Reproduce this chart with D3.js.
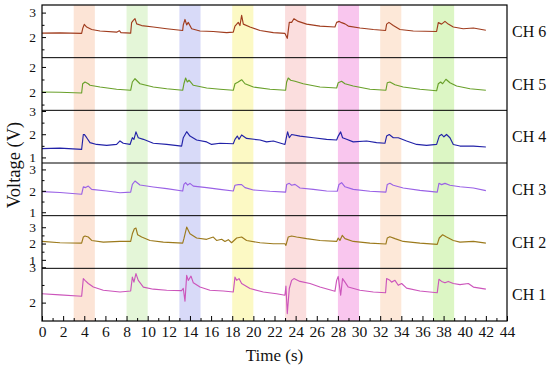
<!DOCTYPE html>
<html><head><meta charset="utf-8">
<script src="https://cdn.jsdelivr.net/npm/d3@7"></script>
<style>body{margin:0;background:#fff} svg{display:block} svg text{font-family:"Liberation Serif","Times New Roman","DejaVu Serif",serif;fill:#111}</style>
</head><body><svg id="c" width="550" height="370"></svg>
<script>
// ---------- data ----------
const channelNames = ["CH 6","CH 5","CH 4","CH 3","CH 2","CH 1"];
const lineColors = ["#a03c1e","#69a02a","#2222a8","#9a62e6","#9c7a1c","#cc55bb"];

const ch6 = [[0,2.16],[1.7,2.17],[3.75,2.15],[3.85,2.35],[4.0,2.52],[4.23,2.41],[4.7,2.31],[5.49,2.25],[7.06,2.2],[7.32,2.26],[7.47,2.18],[8.39,2.16],[8.48,2.59],[8.64,2.68],[8.8,2.75],[8.96,2.54],[9.43,2.47],[10.53,2.41],[11.8,2.34],[13.31,2.27],[13.37,2.5],[13.53,2.72],[13.69,2.5],[13.84,2.6],[14.16,2.34],[14.95,2.25],[16.21,2.23],[17.47,2.18],[18.1,2.2],[18.26,2.45],[18.57,2.6],[18.73,2.47],[18.89,2.89],[19.05,2.53],[19.68,2.41],[20.63,2.27],[21.89,2.18],[22.99,2.15],[23.21,1.95],[23.4,2.6],[23.62,2.6],[23.84,2.75],[24.25,2.64],[25.04,2.53],[26.3,2.45],[27.72,2.41],[27.88,2.6],[28.13,2.64],[28.35,2.59],[28.67,2.54],[28.98,2.45],[30.09,2.37],[31.35,2.31],[32.51,2.27],[32.61,2.53],[32.83,2.6],[33.24,2.47],[33.87,2.31],[35.13,2.25],[37.34,2.23],[37.5,2.59],[37.81,2.53],[38.13,2.64],[38.44,2.53],[38.92,2.41],[39.86,2.34],[40.82,2.37],[42,2.28]];
const ch5 = [[0,2.0],[1.7,1.99],[3.75,1.96],[3.85,2.33],[4.07,2.4],[4.38,2.33],[4.54,2.27],[5.49,2.2],[7.06,2.11],[8.39,2.07],[8.55,2.4],[8.8,2.53],[9.27,2.33],[10.53,2.2],[11.8,2.13],[13.31,2.07],[13.43,2.33],[13.59,2.56],[13.75,2.4],[13.91,2.47],[14.32,2.27],[15.58,2.16],[16.84,2.11],[18.1,2.07],[18.26,2.33],[18.57,2.4],[18.89,2.49],[19.21,2.33],[20.0,2.2],[21.57,2.11],[23.05,2.07],[23.15,2.4],[23.3,2.56],[23.53,2.47],[23.94,2.43],[24.72,2.33],[26.3,2.2],[27.88,2.16],[28.03,2.37],[28.35,2.43],[28.67,2.33],[29.45,2.24],[31.03,2.11],[32.54,2.07],[32.67,2.37],[32.92,2.4],[33.4,2.29],[34.18,2.2],[35.76,2.11],[37.34,2.05],[37.5,2.33],[37.72,2.4],[37.91,2.33],[38.22,2.51],[38.6,2.37],[39.23,2.24],[40.5,2.13],[42,2.07]];
const ch4 = [[0,1.38],[1.7,1.4],[3.75,1.35],[3.91,1.99],[4.0,1.99],[4.23,1.85],[4.54,1.64],[5.17,1.56],[6.12,1.52],[7.06,1.56],[7.38,1.71],[7.69,1.61],[8.33,1.56],[8.55,1.85],[8.7,1.78],[8.89,2.1],[9.11,1.85],[9.59,1.78],[10.53,1.61],[11.8,1.56],[13.21,1.49],[13.37,1.85],[13.69,2.11],[14.0,1.92],[14.63,1.75],[15.58,1.67],[16.05,1.56],[16.84,1.61],[18.1,1.59],[18.26,1.78],[18.48,1.92],[18.64,1.78],[18.89,1.97],[19.36,1.82],[20.63,1.75],[21.25,1.67],[21.89,1.71],[22.99,1.56],[23.15,1.92],[23.24,2.1],[23.4,1.85],[23.62,1.99],[24.41,1.92],[25.67,1.85],[26.93,1.78],[27.88,1.75],[28.03,1.92],[28.26,2.1],[28.44,1.85],[28.82,1.78],[29.45,1.67],[30.72,1.71],[31.66,1.64],[32.45,1.61],[32.61,1.92],[32.86,1.99],[33.24,1.85],[33.71,1.85],[34.5,1.71],[35.45,1.56],[36.39,1.52],[37.34,1.56],[37.59,1.92],[37.81,1.99],[38.03,1.89],[38.28,1.99],[38.6,1.85],[38.92,1.56],[39.55,1.49],[40.82,1.49],[42,1.45]];
const ch3 = [[0,1.96],[1.7,1.92],[3.75,1.84],[3.91,2.19],[4.13,2.15],[4.38,2.22],[4.7,2.07],[6.12,1.99],[7.38,1.91],[8.39,1.94],[8.55,2.3],[8.8,2.46],[9.27,2.27],[10.53,2.18],[11.8,2.1],[13.31,1.99],[13.43,2.3],[13.59,2.38],[13.78,2.27],[14.0,2.35],[14.32,2.22],[15.58,2.15],[16.84,2.07],[18.1,1.99],[18.26,2.26],[18.57,2.29],[18.89,2.29],[19.21,2.15],[20.0,2.04],[21.57,1.98],[23.05,1.94],[23.15,2.3],[23.4,2.35],[23.62,2.26],[23.94,2.3],[24.41,2.13],[25.67,2.07],[26.93,1.99],[27.94,1.98],[28.1,2.3],[28.35,2.38],[28.67,2.19],[29.45,2.07],[31.03,1.98],[32.54,1.94],[32.67,2.3],[32.92,2.35],[33.24,2.26],[34.18,2.13],[35.76,2.02],[37.4,1.94],[37.56,2.35],[37.81,2.29],[38.13,2.35],[38.6,2.26],[39.55,2.19],[40.82,2.13],[42,2.01]];
const ch2 = [[0,2.13],[1.7,2.05],[3.75,2.03],[3.91,2.4],[4.07,2.46],[4.38,2.4],[4.7,2.19],[5.8,2.09],[7.38,2.13],[8.39,2.13],[8.55,2.6],[8.74,2.91],[8.89,2.95],[9.05,2.54],[9.43,2.4],[10.22,2.19],[11.48,2.09],[13.31,2.03],[13.43,2.3],[13.69,3.01],[14.0,2.6],[14.63,2.34],[15.58,2.26],[16.21,2.4],[16.52,2.19],[17.0,2.26],[17.31,2.13],[17.63,2.24],[17.94,2.05],[18.42,2.34],[18.89,2.4],[19.36,2.19],[20.63,2.05],[21.89,1.99],[22.99,1.99],[23.08,1.89],[23.3,2.4],[23.62,2.46],[24.09,2.4],[25.04,2.3],[26.3,2.19],[27.88,2.13],[28.03,2.34],[28.19,2.19],[28.41,2.5],[28.67,2.3],[29.45,2.13],[31.03,2.03],[32.54,1.97],[32.67,2.34],[32.92,2.42],[33.4,2.3],[34.18,2.13],[35.76,2.03],[37.4,1.95],[37.59,2.34],[37.91,2.54],[38.28,2.4],[38.92,2.19],[39.55,2.09],[40.82,2.13],[42,2.03]];
const ch1 = [[0,2.25],[1.7,2.22],[3.75,2.18],[3.91,2.68],[4.07,2.63],[4.38,2.54],[4.86,2.44],[5.8,2.35],[7.38,2.3],[8.39,2.33],[8.55,2.72],[8.7,2.58],[8.89,2.82],[9.11,2.63],[9.59,2.44],[10.53,2.38],[11.8,2.35],[13.21,2.34],[13.37,2.4],[13.53,2.04],[13.69,2.77],[13.84,2.63],[14.1,2.75],[14.32,2.56],[14.95,2.44],[15.89,2.35],[17.16,2.33],[18.1,2.3],[18.26,2.72],[18.42,2.63],[18.64,2.68],[18.89,2.54],[19.68,2.4],[20.94,2.3],[22.2,2.25],[22.99,2.21],[23.08,2.47],[23.21,1.69],[23.4,2.4],[23.62,2.63],[23.84,2.68],[24.41,2.6],[25.36,2.54],[26.3,2.44],[27.72,2.32],[27.88,2.63],[28.03,2.74],[28.26,2.21],[28.44,2.68],[28.67,2.58],[28.98,2.44],[30.09,2.35],[31.35,2.3],[32.51,2.28],[32.61,2.68],[32.92,2.63],[33.08,2.58],[33.4,2.63],[33.71,2.49],[34.03,2.54],[34.5,2.41],[35.76,2.33],[37.4,2.28],[37.56,2.66],[37.81,2.6],[38.13,2.56],[38.44,2.6],[38.92,2.54],[39.55,2.51],[40.34,2.54],[40.82,2.44],[42,2.38]];
const series = [ch6, ch5, ch4, ch3, ch2, ch1];

const yDomains = [[1.16,3.31],[1.27,3.37],[0.76,3.03],[0.84,3.30],[0.48,3.71],[1.48,2.97]];
const yTickValues = [[3,2],[3,2],[3,2,1],[3,2,1],[3,2,1],[3,2]];
const yTickLabels = [["3","2"],["2","2"],["3","2","1"],["3","2","1"],["3","2","1"],["3","2"]];
const yMinorTicks = [[2.5,1.5],[2.5,1.5],[2.5,1.5],[2.5,1.5],[2.5,1.5],[2.5]];

const xTickValues = [0,2,4,6,8,10,12,14,16,18,20,22,24,26,28,30,32,34,36,38,40,42,44];
const xMinorTicks = [1,3,5,7,9,11,13,15,17,19,21,23,25,27,29,31,33,35,37,39,41,43];

const bands = [[3,5],[8,10],[13,15],[18,20],[23,25],[28,30],[32,34],[37,39]];
const bandColors = ["#fce4d6","#e4f6d8","#d8daf8","#fcf9c4","#fbdede","#f9c6ee","#fde8d8","#dcf6c4"];

// ---------- layout ----------
const FONT = '"Liberation Serif","Times New Roman","DejaVu Serif",serif';
const svg = d3.select("#c");
const L = 42, R = 507, T = 5, B = 321;
const ph = (B - T) / 6;
const x = d3.scaleLinear().domain([0,44]).range([L,R]);

svg.append("g").selectAll("rect").data(bands).join("rect")
  .attr("x", d => x(d[0])).attr("width", d => x(d[1]) - x(d[0]))
  .attr("y", T).attr("height", B - T)
  .attr("fill", (d,i) => bandColors[i]);

channelNames.forEach((name, i) => {
  const top = T + i * ph, bot = top + ph;
  const y = d3.scaleLinear().domain(yDomains[i]).range([bot, top]);
  svg.append("path").datum(series[i])
    .attr("fill","none").attr("stroke", lineColors[i]).attr("stroke-width",1.15)
    .attr("stroke-linejoin","round")
    .attr("d", d3.line().x(d => x(d[0])).y(d => y(d[1])));
  const ax = svg.append("g").attr("transform",`translate(${L},0)`)
    .call(d3.axisLeft(y).tickValues(yTickValues[i]).tickFormat((d,k) => yTickLabels[i][k]).tickSize(-4).tickPadding(6));
  ax.attr("font-family", FONT);
  ax.select(".domain").remove();
  ax.selectAll("text").attr("font-family", FONT).style("font-size","13.5px");
  const axm = svg.append("g").attr("transform",`translate(${L},0)`)
    .call(d3.axisLeft(y).tickValues(yMinorTicks[i]).tickFormat("").tickSize(-2.5));
  axm.select(".domain").remove();
  if (i > 0) svg.append("line").attr("x1",L).attr("x2",R).attr("y1",top).attr("y2",top).attr("stroke","#000").attr("stroke-width",1);
  svg.append("text").attr("x", 512).attr("y", (top + bot)/2).attr("dy","0.35em")
    .attr("font-family", FONT).style("font-size","16px").text(name);
});

svg.append("rect").attr("x",L).attr("y",T).attr("width",R-L).attr("height",B-T)
  .attr("fill","none").attr("stroke","#000").attr("stroke-width",1.2);

const xa = svg.append("g").attr("transform",`translate(0,${B})`)
  .call(d3.axisBottom(x).tickValues(xTickValues).tickFormat(d3.format("d")).tickSize(-5).tickPadding(5));
xa.attr("font-family", FONT);
xa.select(".domain").remove();
xa.selectAll("text").attr("font-family", FONT).style("font-size","15.5px");
const xm = svg.append("g").attr("transform",`translate(0,${B})`)
  .call(d3.axisBottom(x).tickValues(xMinorTicks).tickFormat("").tickSize(-3));
xm.select(".domain").remove();

svg.append("text").attr("x", (L+R)/2).attr("y", 361).attr("text-anchor","middle")
  .attr("font-family", FONT).style("font-size","17px").text("Time (s)");
svg.append("text").attr("transform","translate(20,165) rotate(-90)").attr("text-anchor","middle")
  .attr("font-family", FONT).style("font-size","18.5px").text("Voltage (V)");
</script></body></html>
